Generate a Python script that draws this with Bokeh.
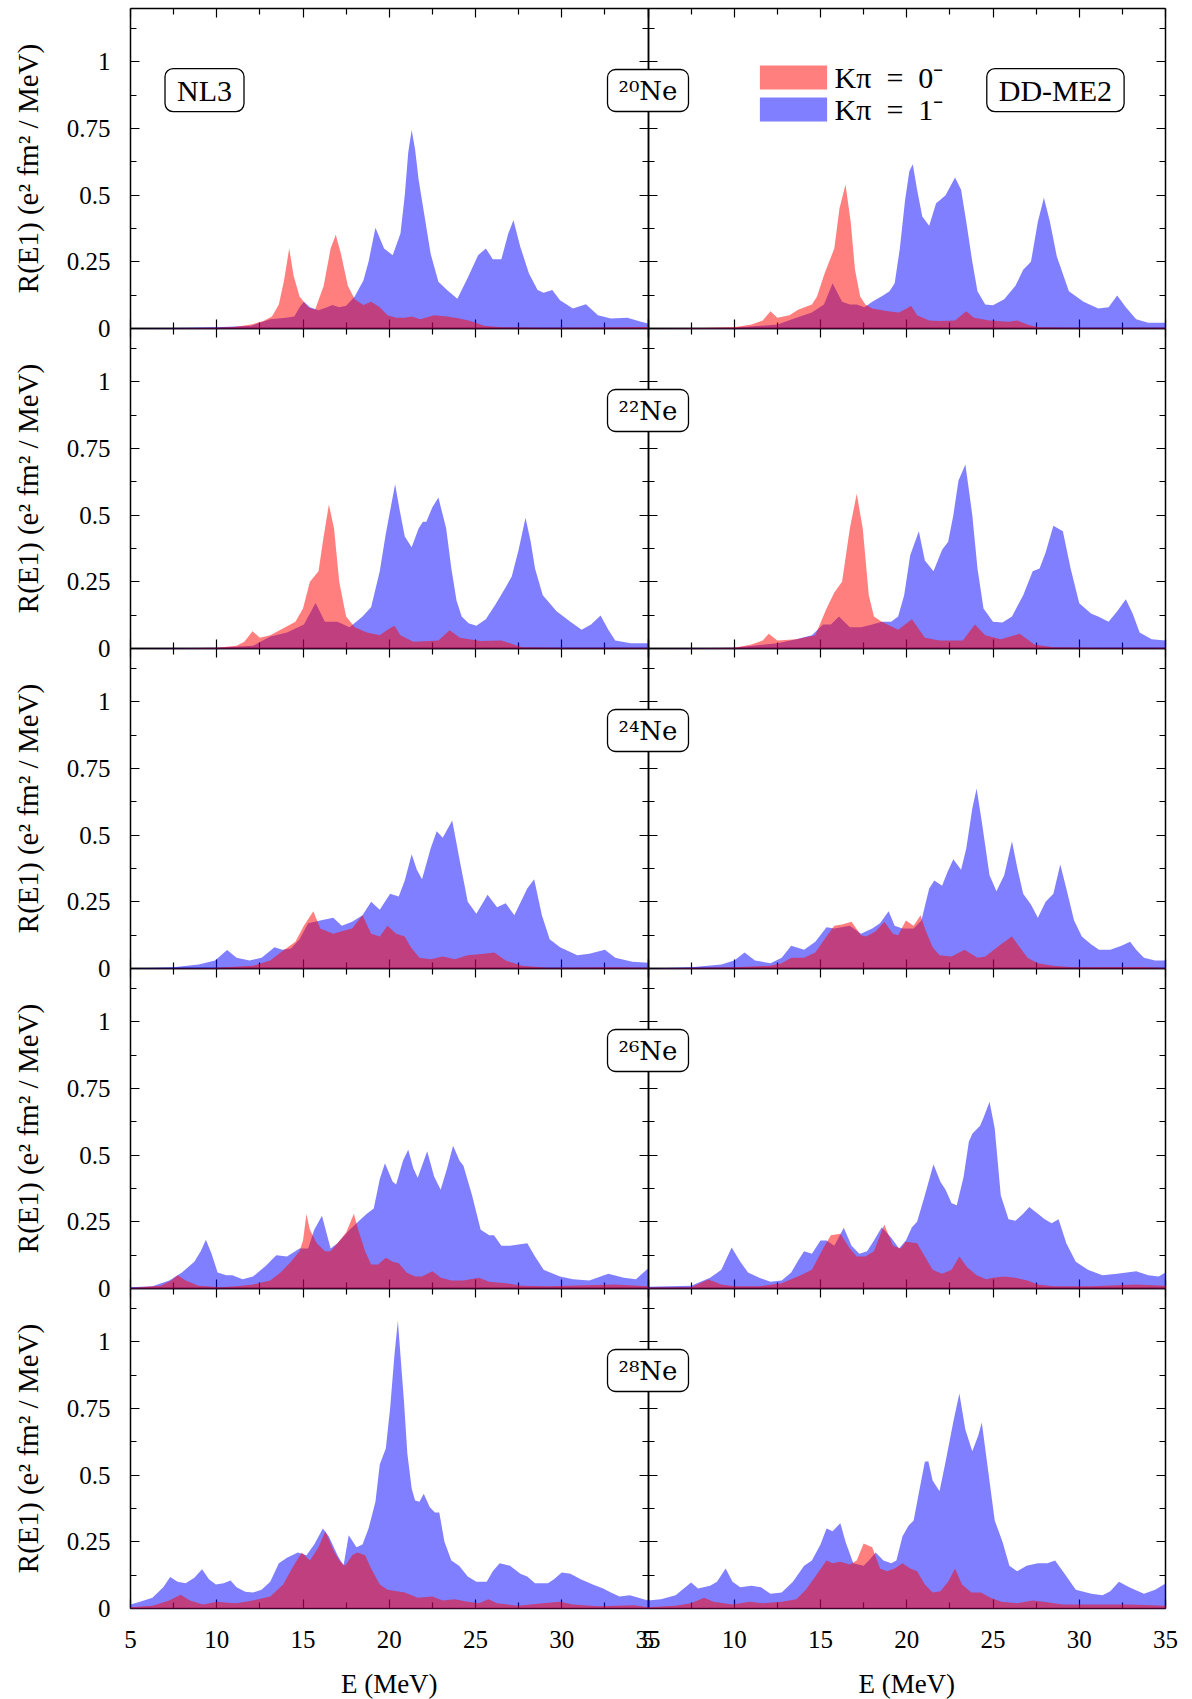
import math
from bokeh.plotting import figure
from bokeh.models import (Range1d, LinearAxis, FixedTicker, Label, Legend, LegendItem,
                          CustomJSTickFormatter)
from bokeh.embed import file_html
from bokeh.resources import INLINE

FONT = "Liberation Serif"
NUC_FONT = "DejaVu Serif"

NUCLEI = ["²⁰Ne", "²²Ne", "²⁴Ne", "²⁶Ne", "²⁸Ne"]
MODELS = ["NL3", "DD-ME2"]
K_LABELS = ["Kπ\u2002=\u20020⁻", "Kπ\u2002=\u20021⁻"]
X_TICKS = [5, 10, 15, 20, 25, 30, 35]
X_MINOR = [7.5, 12.5, 17.5, 22.5, 27.5, 32.5]
Y_TICKS = [0, 0.25, 0.5, 0.75, 1.0]
Y_MINOR = [0.125, 0.375, 0.625, 0.875, 1.125]
X_LABEL = "E (MeV)"
Y_LABEL = "R(E1) (e² fm² / MeV)"

# ---------------- 20Ne ----------------
NE20_NL3_K0_E = [5, 8, 10, 11, 12, 12.7, 13.2, 13.6, 13.9, 14.2, 14.45, 14.8, 15.3, 15.7, 16.2, 16.6, 16.9, 17.2,
                 17.6, 18.0, 18.5, 18.95, 19.45, 19.9, 20.4, 20.9, 21.3, 21.8, 22.6, 23.35, 24.0, 24.6, 25.1, 25.5,
                 26.5, 29, 32, 35]
NE20_NL3_K0_R = [0, 0.001, 0.003, 0.006, 0.015, 0.028, 0.045, 0.09, 0.18, 0.3, 0.2, 0.12, 0.08, 0.07, 0.16, 0.3,
                 0.352, 0.28, 0.16, 0.11, 0.088, 0.1, 0.08, 0.05, 0.04, 0.04, 0.045, 0.035, 0.05, 0.045, 0.038, 0.03,
                 0.02, 0.01, 0.005, 0.003, 0.004, 0.006]
NE20_NL3_K1_E = [5, 7.5, 10, 12, 13.1, 14.0, 14.5, 14.8, 15.05, 15.4, 15.9, 16.4, 16.7, 17.1, 17.5, 18.0, 18.5,
                 18.8, 19.2, 19.7, 20.2, 20.65, 20.9, 21.1, 21.3, 21.5, 21.7, 22.0, 22.4, 22.85, 23.35, 23.95, 24.55,
                 25.15, 25.6, 26.0, 26.5, 26.9, 27.2, 27.6, 28.1, 28.6, 28.95, 29.45, 29.9, 30.65, 31.4, 32.1, 32.85,
                 33.8, 34.6, 35]
NE20_NL3_K1_R = [0, 0.002, 0.005, 0.01, 0.035, 0.04, 0.045, 0.08, 0.1, 0.08, 0.068, 0.08, 0.088, 0.08, 0.085, 0.12,
                 0.18, 0.25, 0.378, 0.3, 0.275, 0.356, 0.5, 0.66, 0.744, 0.67, 0.56, 0.44, 0.28, 0.175, 0.144, 0.112,
                 0.19, 0.275, 0.3, 0.26, 0.26, 0.356, 0.406, 0.306, 0.206, 0.144, 0.134, 0.144, 0.106, 0.075, 0.091,
                 0.05, 0.0375, 0.04, 0.025, 0.019]
NE20_DD_K0_E = [5, 8, 10, 11, 11.65, 12.1, 12.5, 13.2, 13.7, 14.5, 14.8, 15.2, 15.5, 15.8, 16.1, 16.45, 16.75, 17.0,
                17.3, 17.6, 18.0, 18.9, 19.55, 20.0, 20.25, 20.6, 21.3, 21.9, 22.8, 23.45, 23.9, 24.8, 25.9, 26.4,
                27.0, 27.6, 30, 35]
NE20_DD_K0_R = [0, 0.002, 0.005, 0.015, 0.03, 0.065, 0.04, 0.05, 0.07, 0.09, 0.12, 0.2, 0.25, 0.3, 0.45, 0.54, 0.4,
                0.22, 0.12, 0.09, 0.075, 0.065, 0.06, 0.075, 0.085, 0.05, 0.03, 0.028, 0.03, 0.065, 0.04, 0.03,
                0.025, 0.03, 0.015, 0.005, 0.003, 0.003]
NE20_DD_K1_E = [5, 10, 12.5, 13.6, 14.5, 15.2, 15.7, 16.25, 16.7, 17.1, 17.55, 18.0, 18.65, 19.0, 19.3, 19.6, 19.9,
                20.15, 20.35, 20.6, 20.9, 21.3, 21.7, 21.9, 22.25, 22.8, 23.15, 23.45, 23.8, 24.1, 24.55, 25.0, 25.65,
                26.3, 26.75, 27.2, 27.6, 27.95, 28.3, 28.7, 29.4, 30.25, 31.1, 31.7, 32.2, 32.7, 33.3, 34.0, 35]
NE20_DD_K1_R = [0, 0.003, 0.015, 0.04, 0.06, 0.09, 0.17, 0.1, 0.09, 0.09, 0.08, 0.1, 0.125, 0.14, 0.17, 0.3, 0.48,
                0.59, 0.616, 0.52, 0.42, 0.385, 0.47, 0.48, 0.5, 0.566, 0.52, 0.4, 0.25, 0.14, 0.09, 0.0875, 0.11,
                0.16, 0.22, 0.25, 0.4, 0.49, 0.4, 0.27, 0.14, 0.1, 0.075, 0.08, 0.124, 0.08, 0.035, 0.022, 0.022]

# ---------------- 22Ne ----------------
NE22_NL3_K0_E = [5, 8, 10, 11.15, 11.6, 12.07, 12.5, 13.1, 13.7, 14.56, 15.0, 15.4, 15.9, 16.15, 16.5, 16.8, 17.1,
                 17.5, 18.0, 18.7, 19.45, 19.9, 20.3, 20.65, 21.4, 22.85, 23.5, 24.1, 25.3, 26.5, 27.0, 27.7, 30, 35]
NE22_NL3_K0_R = [0, 0.001, 0.003, 0.01, 0.025, 0.065, 0.04, 0.05, 0.07, 0.1, 0.15, 0.25, 0.29, 0.4, 0.54, 0.45,
                 0.25, 0.12, 0.08, 0.06, 0.05, 0.07, 0.085, 0.05, 0.025, 0.03, 0.068, 0.04, 0.028, 0.03, 0.02, 0.005,
                 0.003, 0.003]
NE22_NL3_K1_E = [5, 10, 12.1, 13.1, 14.07, 15.05, 15.73, 16.27, 17.0, 17.7, 18.45, 18.95, 19.45, 19.8, 20.34, 20.6,
                 20.9, 21.3, 21.7, 21.95, 22.15, 22.5, 22.85, 23.3, 23.6, 23.9, 24.2, 24.6, 25.05, 25.6, 26.2, 26.75,
                 27.1, 27.5, 27.9, 28.2, 28.45, 28.9, 29.7, 30.5, 31.15, 31.7, 32.25, 32.7, 33.1, 34, 35]
NE22_NL3_K1_R = [0, 0.003, 0.01, 0.045, 0.06, 0.09, 0.171, 0.1, 0.1, 0.08, 0.12, 0.156, 0.29, 0.43, 0.616, 0.52,
                 0.42, 0.38, 0.45, 0.475, 0.475, 0.53, 0.566, 0.45, 0.3, 0.18, 0.12, 0.095, 0.085, 0.11, 0.17, 0.23,
                 0.27, 0.37, 0.49, 0.4, 0.3, 0.2, 0.14, 0.1, 0.07, 0.09, 0.124, 0.07, 0.03, 0.02, 0.02]
NE22_DD_K0_E = [5, 8, 10, 11, 11.65, 12.0, 12.5, 13.6, 14.7, 15.35, 15.8, 16.25, 16.7, 17.1, 17.45, 17.8, 18.1,
                18.55, 19.5, 20.3, 21.05, 21.9, 23.25, 23.95, 24.55, 25.45, 26.55, 27.4, 28.5, 31, 35]
NE22_DD_K0_R = [0, 0.001, 0.003, 0.015, 0.03, 0.055, 0.03, 0.035, 0.05, 0.15, 0.21, 0.25, 0.45, 0.58, 0.45, 0.2,
                0.12, 0.1, 0.07, 0.11, 0.04, 0.03, 0.03, 0.09, 0.05, 0.035, 0.055, 0.015, 0.005, 0.003, 0.003]
NE22_DD_K1_E = [5, 10, 12.5, 13.6, 14.5, 15.15, 15.6, 16.07, 16.7, 17.35, 18.0, 18.55, 19.1, 19.5, 19.85, 20.2, 20.7,
                21.05, 21.55, 22.05, 22.4, 22.7, 23.0, 23.4, 23.8, 24.1, 24.45, 25.0, 25.55, 26.1, 26.75, 27.3, 27.7,
                28.05, 28.5, 29.05, 29.5, 30.0, 30.7, 31.1, 31.7, 32.2, 32.7, 33.1, 33.5, 34.2, 35]
NE22_DD_K1_R = [0, 0.003, 0.02, 0.035, 0.05, 0.09, 0.09, 0.12, 0.08, 0.08, 0.09, 0.1, 0.1, 0.12, 0.2, 0.35, 0.44,
                0.33, 0.29, 0.37, 0.4, 0.5, 0.63, 0.69, 0.5, 0.3, 0.15, 0.1, 0.0975, 0.12, 0.2, 0.29, 0.3, 0.36, 0.46,
                0.44, 0.3, 0.17, 0.13, 0.12, 0.1, 0.14, 0.185, 0.13, 0.06, 0.035, 0.03]

# ---------------- 24Ne ----------------
NE24_NL3_K0_E = [5, 9.7, 12.1, 13.1, 13.7, 14.56, 15.05, 15.6, 16.0, 16.75, 17.25, 17.85, 18.45, 18.95, 19.45, 19.9,
                 20.4, 20.9, 21.25, 21.75, 22.4, 23.1, 23.8, 24.55, 25.5, 26.1, 26.75, 27.7, 29.2, 33.1, 35]
NE24_NL3_K0_R = [0, 0.002, 0.01, 0.03, 0.06, 0.1, 0.16, 0.215, 0.15, 0.13, 0.14, 0.15, 0.2, 0.13, 0.12, 0.16, 0.13,
                 0.12, 0.08, 0.04, 0.035, 0.045, 0.035, 0.05, 0.055, 0.06, 0.03, 0.01, 0.003, 0.005, 0.003]
NE24_NL3_K1_E = [5, 7.5, 8.95, 9.9, 10.6, 11.15, 11.9, 12.6, 13.35, 13.8, 14.3, 14.8, 15.3, 16.0, 16.75, 17.25, 17.85,
                 18.45, 18.95, 19.45, 20.05, 20.55, 20.9, 21.3, 21.6, 21.9, 22.4, 22.75, 23.1, 23.65, 24.1, 24.55,
                 25.05, 25.7, 26.25, 26.75, 27.25, 28.0, 28.4, 28.85, 29.3, 29.9, 30.9, 31.6, 32.5, 33.1, 34.1, 35]
NE24_NL3_K1_R = [0, 0.005, 0.015, 0.03, 0.069, 0.04, 0.03, 0.04, 0.08, 0.07, 0.075, 0.11, 0.17, 0.18, 0.19, 0.16,
                 0.175, 0.2, 0.25, 0.22, 0.28, 0.27, 0.33, 0.428, 0.37, 0.335, 0.45, 0.515, 0.49, 0.555, 0.4, 0.25,
                 0.205, 0.277, 0.23, 0.245, 0.2, 0.3, 0.335, 0.2, 0.11, 0.08, 0.05, 0.055, 0.07, 0.04, 0.025, 0.022]
NE24_DD_K0_E = [5, 10, 12.1, 12.75, 13.3, 14.05, 14.7, 15.35, 15.8, 16.25, 16.8, 17.35, 17.65, 18.2, 18.7, 19.2, 19.5,
                19.95, 20.4, 20.8, 21.05, 21.5, 21.9, 22.6, 23.35, 24.1, 24.55, 25.45, 26.1, 26.55, 27.0, 27.6, 28.5,
                29.6, 33.75, 35]
NE24_DD_K0_R = [0, 0.005, 0.01, 0.02, 0.04, 0.04, 0.06, 0.12, 0.16, 0.165, 0.175, 0.125, 0.12, 0.14, 0.175, 0.13,
                0.125, 0.18, 0.16, 0.2, 0.15, 0.08, 0.05, 0.045, 0.07, 0.04, 0.045, 0.09, 0.12, 0.08, 0.04, 0.02,
                0.01, 0.005, 0.006, 0.002]
NE24_DD_K1_E = [5, 7.5, 9.25, 10.0, 10.6, 11.2, 12.1, 12.75, 13.3, 14.05, 14.7, 15.35, 15.8, 16.7, 17.35, 18.0, 18.45,
                18.95, 19.3, 19.75, 20.4, 20.85, 21.3, 21.6, 22.05, 22.35, 22.7, 23.15, 23.45, 23.8, 24.05, 24.35,
                24.8, 25.2, 25.65, 26.1, 26.4, 26.75, 27.2, 27.6, 28.05, 28.5, 28.9, 29.25, 29.7, 30.15, 30.7, 31.15,
                31.8, 32.45, 32.95, 33.3, 33.75, 34.4, 35]
NE24_DD_K1_R = [0, 0.005, 0.015, 0.03, 0.06, 0.03, 0.02, 0.04, 0.085, 0.07, 0.1, 0.155, 0.15, 0.16, 0.13, 0.15, 0.17,
                0.215, 0.16, 0.15, 0.15, 0.18, 0.3, 0.33, 0.31, 0.36, 0.41, 0.37, 0.45, 0.6, 0.675, 0.55, 0.35, 0.29,
                0.35, 0.4775, 0.38, 0.28, 0.24, 0.19, 0.25, 0.28, 0.39, 0.3, 0.18, 0.12, 0.09, 0.07, 0.07, 0.085, 0.1,
                0.07, 0.04, 0.03, 0.03]

# ---------------- 26Ne ----------------
NE26_NL3_K0_E = [5, 6.75, 7.37, 7.73, 8.2, 8.95, 10.2, 11.15, 12.1, 13.1, 13.7, 14.3, 14.8, 15.0, 15.2, 15.4, 15.8,
                 16.27, 16.6, 17.0, 17.5, 17.95, 18.2, 18.6, 18.95, 19.35, 19.8, 20.2, 20.55, 21.0, 21.5, 21.9, 22.5,
                 23.0, 23.6, 24.3, 25.2, 25.8, 26.75, 27.7, 29.2, 33.1, 35]
NE26_NL3_K0_R = [0.002, 0.01, 0.03, 0.05, 0.03, 0.01, 0.005, 0.008, 0.015, 0.03, 0.06, 0.1, 0.14, 0.18, 0.279, 0.22,
                 0.17, 0.14, 0.14, 0.17, 0.21, 0.28, 0.22, 0.14, 0.09, 0.09, 0.115, 0.1, 0.095, 0.06, 0.045, 0.045,
                 0.065, 0.04, 0.03, 0.03, 0.04, 0.025, 0.02, 0.01, 0.008, 0.015, 0.008]
NE26_NL3_K1_E = [5, 6.27, 7.25, 7.98, 8.7, 9.07, 9.37, 9.7, 10.05, 10.55, 10.9, 11.5, 12.1, 12.85, 13.45, 14.07, 14.8,
                 15.3, 15.65, 16.1, 16.6, 17.0, 17.7, 18.35, 18.7, 19.1, 19.45, 19.75, 20.2, 20.4, 20.8, 21.1, 21.4,
                 21.65, 21.95, 22.2, 22.6, 22.98, 23.35, 23.7, 24.07, 24.3, 24.8, 25.3, 25.8, 26.07, 26.5, 27.0, 27.5,
                 28.0, 28.45, 28.95, 29.9, 30.65, 31.6, 32.7, 33.6, 34.3, 35]
NE26_NL3_K1_R = [0.005, 0.008, 0.03, 0.06, 0.1, 0.14, 0.183, 0.13, 0.06, 0.05, 0.05, 0.035, 0.045, 0.085, 0.125, 0.12,
                 0.15, 0.15, 0.22, 0.2725, 0.15, 0.17, 0.22, 0.26, 0.28, 0.3, 0.41, 0.47, 0.4, 0.39, 0.48, 0.52, 0.45,
                 0.415, 0.47, 0.515, 0.42, 0.37, 0.45, 0.535, 0.48, 0.46, 0.35, 0.22, 0.2, 0.2, 0.16, 0.16, 0.165,
                 0.17, 0.12, 0.07, 0.045, 0.035, 0.03, 0.055, 0.04, 0.035, 0.075]
NE26_DD_K0_E = [5, 7.5, 8.5, 9.25, 10, 11.45, 12.75, 13.85, 14.5, 15.15, 15.6, 16.15, 16.7, 17.1, 17.6, 18.1, 18.7,
                19.2, 19.65, 19.95, 20.6, 21.05, 21.5, 22.05, 22.6, 23.05, 23.5, 24.05, 24.6, 25.0, 25.65, 26.3, 27.0,
                27.6, 28.5, 30.7, 33.3, 35]
NE26_DD_K0_R = [0.004, 0.005, 0.034, 0.015, 0.008, 0.008, 0.02, 0.05, 0.07, 0.15, 0.2, 0.205, 0.15, 0.12, 0.12, 0.14,
                0.24, 0.16, 0.15, 0.175, 0.17, 0.12, 0.07, 0.055, 0.07, 0.12, 0.08, 0.05, 0.035, 0.04, 0.045, 0.04,
                0.03, 0.015, 0.008, 0.008, 0.015, 0.01]
NE26_DD_K1_E = [5, 7.5, 8.6, 9.25, 9.85, 10.35, 10.8, 11.45, 12.1, 12.75, 13.3, 13.75, 14.05, 14.5, 15.0, 15.35, 15.8,
                16.35, 16.8, 17.25, 17.7, 18.1, 18.55, 19.1, 19.55, 19.95, 20.3, 20.6, 21.05, 21.55, 21.95, 22.25,
                22.6, 22.9, 23.3, 23.6, 23.8, 24.25, 24.45, 24.8, 25.1, 25.45, 25.9, 26.3, 26.75, 27.1, 27.6, 28.0,
                28.4, 28.8, 29.25, 29.8, 30.5, 31.35, 32.2, 33.3, 34.0, 34.6, 35]
NE26_DD_K1_R = [0.007, 0.01, 0.04, 0.07, 0.154, 0.1, 0.06, 0.04, 0.025, 0.03, 0.06, 0.11, 0.14, 0.13, 0.18, 0.18,
                0.16, 0.2275, 0.16, 0.13, 0.14, 0.18, 0.23, 0.19, 0.15, 0.18, 0.23, 0.25, 0.35, 0.466, 0.4, 0.37,
                0.32, 0.3125, 0.42, 0.55, 0.58, 0.61, 0.64, 0.7, 0.6, 0.35, 0.26, 0.254, 0.28, 0.306, 0.28, 0.26,
                0.245, 0.26, 0.17, 0.1, 0.07, 0.05, 0.055, 0.065, 0.05, 0.045, 0.06]

# ---------------- 28Ne ----------------
NE28_NL3_K0_E = [5, 6.27, 7.25, 7.9, 8.45, 9.2, 10.05, 10.65, 11.15, 12.1, 13.1, 13.85, 14.45, 14.93, 15.4, 15.9,
                 16.3, 16.75, 17.1, 17.45, 17.85, 18.15, 18.6, 18.95, 19.45, 19.9, 20.9, 21.65, 22.5, 23.1, 23.8,
                 24.55, 25.2, 25.75, 26.25, 27.45, 28.9, 29.9, 30.65, 32.1, 34.2, 35]
NE28_NL3_K0_R = [0.005, 0.01, 0.03, 0.052, 0.03, 0.015, 0.025, 0.022, 0.02, 0.03, 0.045, 0.09, 0.16, 0.21, 0.18,
                 0.23, 0.29, 0.22, 0.18, 0.16, 0.2, 0.21, 0.2, 0.15, 0.09, 0.07, 0.06, 0.04, 0.045, 0.03, 0.035,
                 0.025, 0.02, 0.035, 0.02, 0.01, 0.02, 0.025, 0.015, 0.008, 0.012, 0.005]
NE28_NL3_K1_E = [5, 5.55, 6.27, 6.9, 7.3, 7.73, 8.2, 8.7, 9.15, 9.55, 9.95, 10.4, 10.8, 11.15, 11.65, 12.1, 12.6,
                 13.1, 13.6, 14.07, 14.7, 15.2, 15.65, 16.15, 16.5, 17.0, 17.35, 17.65, 18.1, 18.45, 18.8, 19.2,
                 19.45, 19.8, 20.05, 20.3, 20.5, 20.65, 20.85, 21.05, 21.3, 21.5, 21.75, 22.0, 22.35, 22.65, 22.9,
                 23.2, 23.6, 24.05, 24.55, 25.05, 25.65, 26.0, 26.4, 27.0, 27.6, 28.0, 28.45, 29.2, 29.55, 30.0, 30.5,
                 31.1, 31.8, 32.4, 32.85, 33.35, 33.95, 34.45, 35]
NE28_NL3_K1_R = [0.015, 0.025, 0.04, 0.08, 0.118, 0.1, 0.095, 0.115, 0.147, 0.11, 0.09, 0.095, 0.105, 0.08, 0.063,
                 0.06, 0.07, 0.1, 0.17, 0.19, 0.21, 0.2, 0.24, 0.3, 0.27, 0.2, 0.16, 0.275, 0.23, 0.24, 0.3, 0.4,
                 0.54, 0.6, 0.75, 0.95, 1.079, 0.95, 0.78, 0.58, 0.45, 0.405, 0.4, 0.43, 0.38, 0.36, 0.36, 0.25, 0.18,
                 0.16, 0.12, 0.1, 0.1, 0.14, 0.17, 0.16, 0.13, 0.12, 0.095, 0.095, 0.11, 0.135, 0.13, 0.11, 0.09,
                 0.075, 0.06, 0.045, 0.05, 0.04, 0.03]
NE28_DD_K0_E = [5, 6.6, 7.5, 8.25, 8.8, 9.9, 10.9, 11.65, 12.75, 13.6, 14.15, 14.7, 15.35, 15.7, 16.15, 16.7, 17.1,
                17.5, 18.0, 18.45, 18.85, 19.3, 19.75, 20.2, 20.6, 21.05, 21.5, 21.95, 22.4, 22.8, 23.2, 23.75, 24.3,
                24.85, 25.5, 26.4, 27.3, 27.95, 29.05, 30.7, 32.9, 35]
NE28_DD_K0_R = [0.005, 0.01, 0.02, 0.04, 0.025, 0.015, 0.025, 0.02, 0.025, 0.035, 0.07, 0.12, 0.18, 0.17, 0.175,
                0.165, 0.18, 0.244, 0.23, 0.15, 0.14, 0.15, 0.17, 0.15, 0.14, 0.09, 0.06, 0.065, 0.1, 0.15, 0.09,
                0.06, 0.06, 0.04, 0.025, 0.02, 0.03, 0.025, 0.015, 0.015, 0.015, 0.01]
NE28_DD_K1_E = [5, 5.75, 6.6, 7.5, 7.9, 8.6, 9.0, 9.5, 9.9, 10.35, 11.0, 11.55, 12.1, 12.75, 13.4, 14.05, 14.5, 15.0,
                15.35, 15.7, 16.15, 16.45, 16.9, 17.5, 17.8, 18.2, 18.65, 19.1, 19.4, 19.75, 20.1, 20.4, 20.75, 21.05,
                21.25, 21.5, 21.9, 22.25, 22.7, 23.05, 23.4, 23.8, 24.15, 24.35, 24.65, 25.1, 25.55, 25.95, 26.4,
                26.95, 27.6, 28.15, 28.6, 29.15, 29.8, 30.7, 31.35, 31.8, 32.3, 32.9, 33.75, 34.4, 35]
NE28_DD_K1_R = [0.03, 0.035, 0.05, 0.0975, 0.075, 0.085, 0.1, 0.15, 0.1, 0.08, 0.085, 0.08, 0.055, 0.06, 0.1, 0.16,
                0.18, 0.24, 0.3, 0.29, 0.32, 0.25, 0.17, 0.16, 0.18, 0.21, 0.18, 0.17, 0.18, 0.27, 0.31, 0.33, 0.45,
                0.55, 0.5525, 0.48, 0.44, 0.55, 0.7, 0.806, 0.67, 0.59, 0.65, 0.6975, 0.55, 0.33, 0.25, 0.16, 0.14,
                0.16, 0.17, 0.17, 0.18, 0.13, 0.07, 0.055, 0.05, 0.065, 0.1, 0.08, 0.055, 0.07, 0.094]

ROWS = [
    ((NE20_NL3_K0_E, NE20_NL3_K0_R), (NE20_NL3_K1_E, NE20_NL3_K1_R), (NE20_DD_K0_E, NE20_DD_K0_R), (NE20_DD_K1_E, NE20_DD_K1_R)),
    ((NE22_NL3_K0_E, NE22_NL3_K0_R), (NE22_NL3_K1_E, NE22_NL3_K1_R), (NE22_DD_K0_E, NE22_DD_K0_R), (NE22_DD_K1_E, NE22_DD_K1_R)),
    ((NE24_NL3_K0_E, NE24_NL3_K0_R), (NE24_NL3_K1_E, NE24_NL3_K1_R), (NE24_DD_K0_E, NE24_DD_K0_R), (NE24_DD_K1_E, NE24_DD_K1_R)),
    ((NE26_NL3_K0_E, NE26_NL3_K0_R), (NE26_NL3_K1_E, NE26_NL3_K1_R), (NE26_DD_K0_E, NE26_DD_K0_R), (NE26_DD_K1_E, NE26_DD_K1_R)),
    ((NE28_NL3_K0_E, NE28_NL3_K0_R), (NE28_NL3_K1_E, NE28_NL3_K1_R), (NE28_DD_K0_E, NE28_DD_K0_R), (NE28_DD_K1_E, NE28_DD_K1_R)),
]

RED = "#ff0000"
BLUE = "#0000ff"

# ---------------- layout (pixels) ----------------
W, H = 1192, 1699
PANEL_LEFT = 130          # left edge of the NL3 panels
PANEL_TOP = 8             # top edge of the first row
PANEL_W = 517.5           # width of one panel
PANEL_H = 320             # height of one panel
E_LO, E_HI = 5, 35
R_LO, R_HI = 0, 1.2
N_ROWS = len(ROWS)

PX_PER_E = PANEL_W / (E_HI - E_LO)
PX_PER_R = PANEL_H / (R_HI - R_LO)
COL_SHIFT = E_HI - E_LO   # DD-ME2 panel sits one panel width to the right

# the plotting frame covers the whole canvas; each panel gets its own ranges
x_lo = E_LO - PANEL_LEFT / PX_PER_E
x_hi = E_LO + (W - PANEL_LEFT) / PX_PER_E
p = figure(width=W, height=H, x_range=Range1d(x_lo, x_hi), y_range=Range1d(0, H),
           x_axis_type=None, y_axis_type=None,
           output_backend="svg", toolbar_location=None, min_border=0)
p.outline_line_color = None
p.background_fill_color = "white"
p.border_fill_color = "white"
p.extra_x_ranges = {"dd": Range1d(x_lo - COL_SHIFT, x_hi - COL_SHIFT)}
for i in range(N_ROWS):
    below = H - (PANEL_TOP + PANEL_H * (i + 1))   # pixels under the panel's zero line
    p.extra_y_ranges[f"r{i}"] = Range1d(R_LO - below / PX_PER_R, R_LO + (H - below) / PX_PER_R)

PLAIN = CustomJSTickFormatter(code="return tick.toString();")


def make_axis(ticks, minor, labelled=False, **kw):
    ax = LinearAxis(ticker=FixedTicker(ticks=ticks, minor_ticks=minor), level="underlay", **kw)
    ax.formatter = PLAIN if labelled else CustomJSTickFormatter(code="return '';")
    ax.axis_line_color = "black"
    ax.axis_line_width = 1.5
    ax.major_tick_line_color = "black"
    ax.major_tick_line_width = 1.2
    ax.minor_tick_line_color = "black"
    ax.minor_tick_line_width = 1.2
    ax.major_tick_in = 9
    ax.major_tick_out = 0
    ax.minor_tick_in = 6
    ax.minor_tick_out = 0
    ax.major_label_text_font = FONT
    ax.major_label_text_font_size = "25px"
    ax.major_label_text_color = "black"
    ax.major_label_standoff = 20 if labelled else 0
    return ax


legend_renderers = None
for i, (nk0, nk1, dk0, dk1) in enumerate(ROWS):
    yr = f"r{i}"
    # spectra: K=1 below, K=0 on top
    p.varea(x=nk1[0], y1=0, y2=nk1[1], fill_color=BLUE, fill_alpha=0.5, y_range_name=yr)
    p.varea(x=nk0[0], y1=0, y2=nk0[1], fill_color=RED, fill_alpha=0.5, y_range_name=yr)
    rb = p.varea(x=dk1[0], y1=0, y2=dk1[1], fill_color=BLUE, fill_alpha=0.5, x_range_name="dd", y_range_name=yr)
    rr = p.varea(x=dk0[0], y1=0, y2=dk0[1], fill_color=RED, fill_alpha=0.5, x_range_name="dd", y_range_name=yr)
    if i == 0:
        legend_renderers = (rr, rb)

    for col in ("default", "dd"):
        # vertical edges of the panel (ticks point into the panel)
        p.add_layout(make_axis(Y_TICKS, Y_MINOR, labelled=(col == "default"), x_range_name=col,
                               y_range_name=yr, fixed_location=E_LO, bounds=(R_LO, R_HI)), "left")
        p.add_layout(make_axis(Y_TICKS, Y_MINOR, x_range_name=col, y_range_name=yr,
                               fixed_location=E_HI, bounds=(R_LO, R_HI)), "right")
        # horizontal edges
        p.add_layout(make_axis(X_TICKS, X_MINOR, x_range_name=col, y_range_name=yr,
                               fixed_location=R_HI, bounds=(E_LO, E_HI)), "above")
        bottom = make_axis(X_TICKS, X_MINOR, labelled=(i == N_ROWS - 1), x_range_name=col, y_range_name=yr,
                           fixed_location=R_LO, bounds=(E_LO, E_HI))
        if i == N_ROWS - 1:
            bottom.major_label_standoff = 22
        p.add_layout(bottom, "below")

# ---- axis titles ----
title_style = dict(text_font=FONT, text_color="black", text_align="center", text_baseline="middle")
for i in range(N_ROWS):
    p.add_layout(Label(x=E_LO - 103 / PX_PER_E, y=(R_LO + R_HI) / 2, y_range_name=f"r{i}", text=Y_LABEL,
                       angle=math.pi / 2, text_font_size="29px", **title_style))
for col in ("default", "dd"):
    p.add_layout(Label(x=(E_LO + E_HI) / 2, y=R_LO - 75 / PX_PER_R, x_range_name=col,
                       y_range_name=f"r{N_ROWS - 1}", text=X_LABEL, text_font_size="27px", **title_style))

# ---- boxed labels ----
box = dict(text_color="black", text_align="center", text_baseline="middle",
           border_line_color="black", border_line_width=1.3,
           background_fill_color="white", border_radius=8)
for i in range(N_ROWS):
    p.add_layout(Label(x=E_HI, y=0.8925, y_range_name=f"r{i}", text=NUCLEI[i], text_font=NUC_FONT,
                       text_font_size="26px", padding=(11, 6), **box))
p.add_layout(Label(x=9.29, y=0.894, y_range_name="r0", text=MODELS[0], text_font=FONT,
                   text_font_size="30px", padding=(12, 5), **box))
p.add_layout(Label(x=28.62, y=0.894, x_range_name="dd", y_range_name="r0", text=MODELS[1], text_font=FONT,
                   text_font_size="30px", padding=(12, 5), **box))

# ---- legend (one entry per K, stacked) ----
legend_style = dict(orientation="vertical", glyph_width=84, glyph_height=30, label_height=40, label_standoff=0,
                    spacing=0, padding=0, margin=0, border_line_color=None, background_fill_alpha=0,
                    label_text_font=FONT, label_text_font_size="30px", label_text_color="black")
for k, bottom_px in ((0, 97), (1, 129)):
    p.add_layout(Legend(items=[LegendItem(label=K_LABELS[k], renderers=[legend_renderers[k]])],
                        location=(750.6, H - bottom_px), **legend_style))

open("out.html", "w").write(file_html(p, INLINE))
